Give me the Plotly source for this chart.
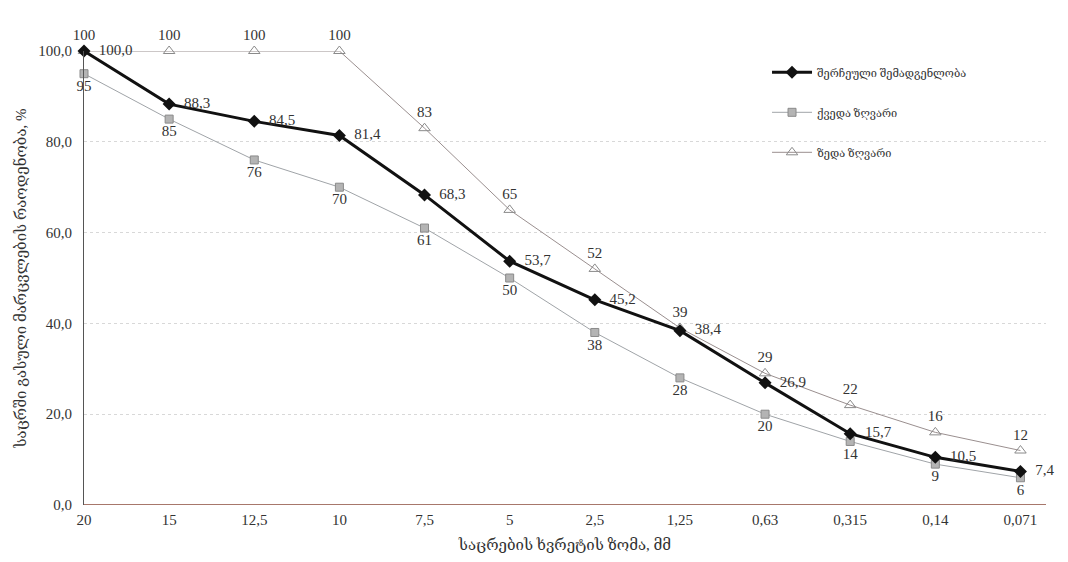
import plotly.graph_objects as go

sizes = ["20", "15", "12,5", "10", "7,5", "5", "2,5", "1,25", "0,63", "0,315", "0,14", "0,071"]
selected = [100.0, 88.3, 84.5, 81.4, 68.3, 53.7, 45.2, 38.4, 26.9, 15.7, 10.5, 7.4]
lower = [95, 85, 76, 70, 61, 50, 38, 28, 20, 14, 9, 6]
upper = [100, 100, 100, 100, 83, 65, 52, 39, 29, 22, 16, 12]

names = ["შერჩეული შემადგენლობა", "ქვედა ზღვარი", "ზედა ზღვარი"]
x_title = "საცრების ხვრეტის ზომა, მმ"
y_title = "საცრში გასული მარცვლების რაოდენობა, %"

xs = list(range(len(sizes)))
FONT = "Liberation Serif, DejaVu Serif, serif"

fig = go.Figure()
fig.add_trace(go.Scatter(
    x=xs, y=upper, name=names[2], legendgroup="c", legendrank=3, mode="lines+markers+text",
    line=dict(color="#9a8f8f", width=1),
    marker=dict(symbol="triangle-up-open", size=10, color="#8a8a8a", line=dict(width=1)),
    text=[str(v) for v in upper], textposition="top center", cliponaxis=False,
    textfont=dict(size=15, color="#333333", family=FONT),
))
fig.add_trace(go.Scatter(
    x=xs, y=lower, name=names[1], legendgroup="b", legendrank=2, mode="lines+markers+text",
    line=dict(color="#a0a4a8", width=1),
    marker=dict(symbol="square", size=8, color="#b4b4b4", line=dict(color="#8a8a8a", width=1)),
    text=[str(v) for v in lower], textposition="bottom center", cliponaxis=False,
    textfont=dict(size=15, color="#333333", family=FONT),
))
fig.add_trace(go.Scatter(
    x=xs, y=selected, name=names[0], legendgroup="a", legendrank=1, mode="lines+markers+text",
    line=dict(color="#111111", width=3),
    marker=dict(symbol="diamond", size=10, color="#111111"),
    text=["  " + f"{v:.1f}".replace(".", ",") for v in selected], textposition="middle right",
    cliponaxis=False,
    textfont=dict(size=15, color="#333333", family=FONT),
))

fig.update_layout(
    width=1068, height=562,
    margin=dict(l=76, r=30, t=43, b=65, autoexpand=False),
    paper_bgcolor="white", plot_bgcolor="white",
    font=dict(family=FONT, color="#333333", size=14),
    separators=", ",
    legend=dict(x=0.71, y=0.985, xanchor="left", yanchor="top",
                traceorder="grouped", tracegroupgap=21, itemwidth=40,
                font=dict(size=11, family=FONT, color="#333333"),
                bgcolor="rgba(0,0,0,0)"),
    xaxis=dict(
        range=[0, 11.3], tickmode="array", tickvals=xs, ticktext=sizes,
        showgrid=False, zeroline=False, showline=False, ticks="", automargin=False,
        ticklabelstandoff=4,
        tickfont=dict(size=15, family=FONT),
        title=dict(text=x_title, font=dict(size=15, family=FONT), standoff=12),
    ),
    yaxis=dict(
        range=[0, 100], tickvals=[0, 20, 40, 60, 80, 100], tickformat=".1f",
        showgrid=True, gridcolor="#d8d8d8", griddash="dot", gridwidth=1,
        zeroline=False, showline=True, linecolor="#555555", linewidth=1,
        ticks="", automargin=False, ticklabelstandoff=8, tickfont=dict(size=15, family=FONT),
        title=dict(text=y_title, font=dict(size=15, family=FONT), standoff=8),
    ),
)
fig.add_hline(y=0, line=dict(color="#8a4a3a", width=1.5), layer="below")

fig.write_html("out.html")
